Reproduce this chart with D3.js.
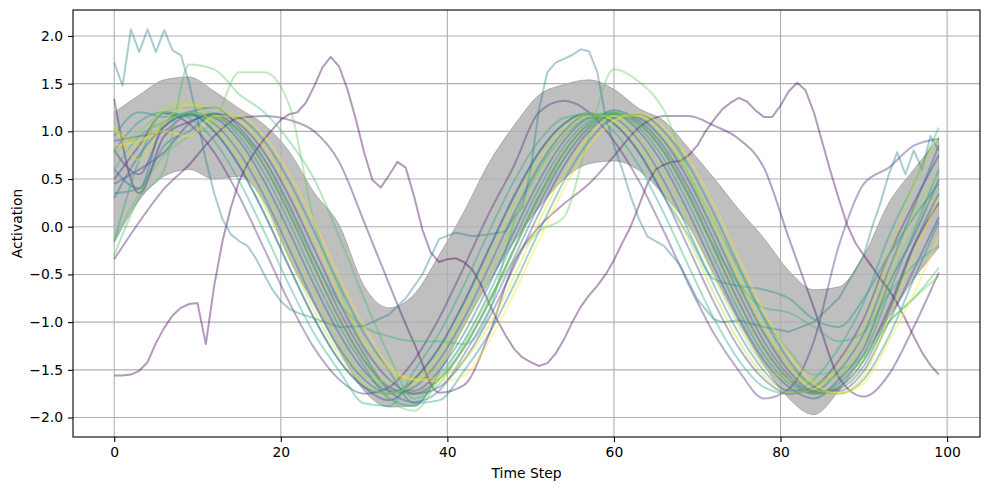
<!DOCTYPE html>
<html>
<head>
<meta charset="utf-8">
<script src="https://cdn.jsdelivr.net/npm/d3@7"></script>
<style>
  body { margin: 0; background: #fff; }
  svg { display: block; font-family: "DejaVu Sans", sans-serif; }
</style>
</head>
<body>
<div id="chart"></div>
<script>
// time grid shared by most runs (every 3rd step)
const coarseSteps = [0, 3, 6, 9, 12, 15, 18, 21, 24, 27, 30, 33, 36, 39, 42, 45, 48, 51, 54, 57,
  60, 63, 66, 69, 72, 75, 78, 81, 84, 87, 90, 93, 96, 99];
const fineSteps = d3.range(0, 100);
const tealSteps = [0, 1, 2, 3, 4, 5, 6, 7, 8, 9, 10, 11, 12, 13, 14, 15, 16, 17, 18, 19, 20, 21, 22,
  24, 27, 30, 33, 35, 37, 39, 41, 43, 45, 47,
  48, 49, 50, 51, 52, 53, 54, 55, 56, 57, 58, 59, 60, 61, 62, 63, 64,
  66, 68, 70, 72, 73, 75, 78, 81, 84, 87, 89,
  90, 91, 92, 93, 94, 95, 96, 97, 98, 99];

// mean +/- std band
const bandUpper = [1.20, 1.38, 1.54, 1.57, 1.42, 1.24, 1.07, 0.79, 0.36, 0.02,
  -0.62, -0.85, -0.71, -0.30, 0.16, 0.67, 1.06, 1.38, 1.49, 1.54,
  1.44, 1.24, 1.11, 0.82, 0.51, 0.18, -0.12, -0.46, -0.66, -0.63,
  -0.30, 0.25, 0.60, 0.93];
const bandLower = [-0.17, 0.28, 0.53, 0.60, 0.50, 0.53, 0.26, -0.33, -0.82, -1.30,
  -1.72, -1.89, -1.88, -1.54, -1.04, -0.58, -0.16, 0.20, 0.50, 0.66,
  0.69, 0.59, 0.33, 0.00, -0.50, -1.00, -1.45, -1.80, -1.97, -1.72,
  -1.35, -0.95, -0.55, -0.22];

// individual runs
const run00 = [-1.56, -1.56, -1.55, -1.51, -1.42, -1.22, -1.06, -0.93, -0.85, -0.81,
  -0.80, -1.23, -0.62, -0.15, 0.20, 0.48, 0.66, 0.80, 0.92, 1.02,
  1.12, 1.18, 1.20, 1.30, 1.47, 1.67, 1.78, 1.68, 1.44, 1.13,
  0.78, 0.49, 0.41, 0.54, 0.68, 0.62, 0.32, -0.03, -0.27, -0.37,
  -0.34, -0.33, -0.37, -0.45, -0.60, -0.80, -0.98, -1.14, -1.28, -1.37,
  -1.42, -1.46, -1.43, -1.33, -1.18, -1.00, -0.84, -0.72, -0.62, -0.50,
  -0.35, -0.17, 0.00, 0.22, 0.45, 0.60, 0.65, 0.68, 0.69, 0.75,
  0.85, 1.00, 1.12, 1.23, 1.30, 1.35, 1.31, 1.22, 1.15, 1.15,
  1.27, 1.42, 1.51, 1.43, 1.20, 0.89, 0.58, 0.29, 0.02, -0.17,
  -0.30, -0.42, -0.55, -0.66, -0.80, -0.97, -1.15, -1.32, -1.45, -1.55];
const run01 = [-0.34, 0.05, 0.40, 0.65, 0.95, 1.14, 1.16, 1.12, 1.00, 0.68,
  0.05, -0.60, -1.22, -1.74, -1.66, -1.13, -0.38, 0.00, 0.24, 0.45,
  0.74, 1.04, 1.16, 1.16, 1.06, 0.92, 0.62, -0.12, -0.85, -1.58,
  -1.78, -1.55, -1.05, -0.48];
const run02 = [1.34, 0.35, 0.95, 1.10, 1.18, 1.00, 0.64, 0.14, -0.42, -0.96,
  -1.40, -1.68, -1.75, -1.60, -1.27, -0.79, -0.23, 0.32, 0.78, 1.08,
  1.19, 1.08, 0.78, 0.32, -0.23, -0.79, -1.27, -1.60, -1.75, -1.68,
  -1.40, -0.85, -0.20, 0.25];
const run03 = [0.50, 0.85, 1.19, 1.08, 0.78, 0.32, -0.23, -0.79, -1.27, -1.60,
  -1.75, -1.68, -1.40, -0.96, -0.42, 0.14, 0.64, 1.20, 1.32, 1.20,
  0.90, 0.48, -0.05, -0.61, -1.12, -1.51, -1.80, -1.70, -1.20, -0.20,
  0.45, 0.62, 0.85, 0.92];
const run04 = [0.80, 0.55, 1.05, 1.18, 1.00, 0.64, 0.14, -0.42, -0.96, -1.40,
  -1.68, -1.82, -1.60, -1.27, -0.79, -0.23, 0.32, 0.78, 1.08, 1.19,
  1.08, 0.78, 0.32, -0.23, -0.79, -1.27, -1.60, -1.75, -1.68, -1.40,
  -0.96, -0.30, 0.25, 0.75];
const run05 = [0.45, 0.60, 0.78, 1.08, 1.19, 1.08, 0.78, 0.32, -0.23, -0.79,
  -1.27, -1.60, -1.75, -1.68, -1.40, -0.96, -0.42, 0.14, 0.64, 1.00,
  1.18, 1.14, 0.90, 0.48, -0.05, -0.61, -1.12, -1.51, -1.72, -1.72,
  -1.51, -1.00, -0.45, 0.10];
const run06 = [0.90, 0.95, 1.00, 1.18, 1.14, 0.90, 0.48, -0.05, -0.61, -1.12,
  -1.51, -1.72, -1.72, -1.51, -1.12, -0.61, -0.05, 0.48, 0.90, 1.14,
  1.18, 1.00, 0.64, 0.14, -0.42, -0.96, -1.40, -1.68, -1.80, -1.60,
  -1.27, -0.60, -0.10, 0.50];
const run07 = [0.30, 0.75, 1.05, 1.20, 1.25, 1.04, 0.71, 0.23, -0.33, -0.88,
  -1.34, -1.72, -1.84, -1.72, -1.34, -0.88, -0.33, 0.23, 0.71, 1.04,
  1.22, 1.11, 0.84, 0.40, -0.14, -0.70, -1.20, -1.56, -1.74, -1.70,
  -1.46, -0.90, -0.20, 0.35];
const run08 = [0.60, 0.40, 1.10, 1.19, 1.08, 0.78, 0.32, -0.23, -0.79, -1.27,
  -1.60, -1.75, -1.68, -1.40, -0.96, -0.42, 0.14, 0.64, 1.00, 1.18,
  1.14, 0.90, 0.48, -0.05, -0.61, -1.12, -1.51, -1.72, -1.72, -1.51,
  -1.12, -0.45, 0.20, 0.85];
const run09 = [1.72, 1.48, 2.07, 1.83, 2.07, 1.83, 2.06, 1.85, 1.80, 1.50, 1.13, 0.70,
  0.35, 0.08, -0.08, -0.15, -0.20, -0.33, -0.50, -0.66, -0.78, -0.86, -0.90,
  -0.96, -1.05, -1.04, -0.92, -0.75, -0.50, -0.13, -0.06, -0.10, -0.08, -0.05,
  0.10, 0.20, 0.60, 1.23, 1.62, 1.72, 1.76, 1.80, 1.86, 1.84, 1.62, 1.15, 0.85, 0.60, 0.32, 0.08, -0.10,
  -0.20, -0.41, -0.76, -0.97, -1.00, -0.98, -1.05, -1.10, -1.00, -0.75, -0.45,
  -0.30, 0.00, 0.25, 0.55, 0.78, 0.55, 0.80, 0.60, 0.95, 0.80];
const run10 = [0.35, 0.40, 0.85, 1.00, 1.18, 1.14, 0.90, 0.48, -0.05, -0.61,
  -1.12, -1.51, -1.85, -1.82, -1.51, -1.12, -0.61, -0.05, 0.48, 0.90,
  1.14, 1.18, 1.00, 0.64, 0.14, -0.42, -0.96, -1.40, -1.68, -1.75,
  -1.60, -1.15, -0.55, 0.05];
const run11 = [0.95, 1.20, 1.15, 1.18, 1.00, 0.64, 0.14, -0.42, -0.96, -1.40,
  -1.68, -1.75, -1.60, -1.27, -0.79, -0.23, 0.32, 0.78, 1.08, 1.19,
  1.08, 0.78, 0.32, -0.10, -0.55, -0.62, -0.66, -0.75, -0.97, -1.05,
  -0.75, -0.30, 0.10, 0.45];
const run12 = [0.80, 1.10, 1.20, 1.16, 1.16, 0.95, 0.56, 0.05, -0.52, -1.04,
  -1.46, -1.80, -1.88, -1.56, -1.20, -0.70, -0.14, 0.40, 0.84, 1.11,
  1.19, 1.04, 0.71, 0.23, -0.33, -0.88, -1.34, -1.64, -1.75, -1.64,
  -1.34, -0.70, -0.05, 0.60];
const run13 = [-0.15, 0.70, 1.20, 1.14, 0.90, 0.48, -0.05, -0.61, -1.12, -1.51,
  -1.85, -1.88, -1.51, -1.12, -0.61, -0.05, 0.48, 0.90, 1.14, 1.18,
  1.00, 0.64, 0.14, -0.42, -0.96, -1.40, -1.68, -1.75, -1.60, -1.27,
  -0.79, -0.10, 0.45, 1.04];
const run14 = [0.60, 0.95, 1.10, 1.20, 1.15, 1.00, 0.70, 0.20, -0.35, -0.80,
  -1.05, -1.15, -1.20, -1.20, -1.23, -0.90, 0.05, 0.60, 0.95, 1.15,
  1.20, 1.08, 0.80, 0.35, -0.20, -0.60, -0.85, -0.90, -1.05, -1.20,
  -1.10, -0.70, -0.40, -0.20];
const run15 = [-0.30, 0.30, 0.60, 1.70, 1.65, 1.39, 1.20, 0.90, 0.50, -0.10,
  -0.75, -1.35, -1.80, -1.65, -1.25, -0.80, -0.25, 0.30, 0.72, 1.05,
  1.18, 1.12, 0.90, 0.55, 0.05, -0.45, -0.95, -1.30, -1.55, -1.50,
  -1.36, -1.00, -0.75, -0.43];
const run16 = [-0.13, 0.35, 0.75, 0.95, 1.10, 1.62, 1.62, 1.28, 0.05, -0.65,
  -1.30, -1.80, -1.93, -1.60, -1.20, -0.75, -0.35, -0.05, 0.10, 0.95,
  1.65, 1.52, 1.22, 0.55, -0.05, -0.60, -1.10, -1.45, -1.65, -1.55,
  -1.40, -1.00, -0.75, -0.52];
const run17 = [0.75, 1.00, 1.20, 1.25, 1.18, 1.00, 0.64, 0.14, -0.42, -0.96,
  -1.40, -1.68, -1.75, -1.60, -1.27, -0.79, -0.23, 0.32, 0.78, 1.08,
  1.19, 1.08, 0.78, 0.32, -0.23, -0.79, -1.27, -1.60, -1.75, -1.68,
  -1.40, -0.60, 0.00, 0.40];
const run18 = [1.00, 0.90, 1.10, 1.19, 1.11, 0.84, 0.40, -0.14, -0.70, -1.20,
  -1.56, -1.62, -1.60, -1.46, -1.04, -0.52, 0.05, 0.56, 0.95, 1.16,
  1.16, 0.95, 0.56, 0.05, -0.52, -1.04, -1.46, -1.60, -1.62, -1.56,
  -1.20, -0.50, 0.15, 0.55];
const run19 = [1.05, 0.85, 1.25, 1.32, 1.04, 0.71, 0.23, -0.33, -0.88, -1.34,
  -1.64, -1.75, -1.64, -1.34, -0.88, -0.33, 0.23, 0.71, 1.04, 1.19,
  1.11, 0.84, 0.40, -0.14, -0.70, -1.20, -1.56, -1.74, -1.70, -1.46,
  -1.04, -0.30, 0.45, 0.95];
const run20 = [1.06, 0.70, 1.10, 1.28, 1.25, 1.11, 0.84, 0.40, -0.14, -0.70,
  -1.20, -1.50, -1.60, -1.58, -1.40, -1.04, -0.52, 0.05, 0.56, 0.95,
  1.16, 1.16, 0.95, 0.56, 0.05, -0.52, -1.04, -1.46, -1.70, -1.74,
  -1.56, -0.95, -0.30, 0.30];
const run21 = [0.85, 0.90, 1.00, 0.95, 1.16, 1.16, 0.95, 0.56, 0.05, -0.52,
  -1.04, -1.46, -1.60, -1.62, -1.56, -1.20, -0.70, -0.14, 0.40, 0.84,
  1.11, 1.19, 1.04, 0.71, 0.23, -0.33, -0.88, -1.34, -1.64, -1.75,
  -1.64, -1.20, -0.70, -0.10];

const runs = [
  { steps: fineSteps, values: run00 },
  { steps: coarseSteps, values: run01 },
  { steps: coarseSteps, values: run02 },
  { steps: coarseSteps, values: run03 },
  { steps: coarseSteps, values: run04 },
  { steps: coarseSteps, values: run05 },
  { steps: coarseSteps, values: run06 },
  { steps: coarseSteps, values: run07 },
  { steps: coarseSteps, values: run08 },
  { steps: tealSteps, values: run09 },
  { steps: coarseSteps, values: run10 },
  { steps: coarseSteps, values: run11 },
  { steps: coarseSteps, values: run12 },
  { steps: coarseSteps, values: run13 },
  { steps: coarseSteps, values: run14 },
  { steps: coarseSteps, values: run15 },
  { steps: coarseSteps, values: run16 },
  { steps: coarseSteps, values: run17 },
  { steps: coarseSteps, values: run18 },
  { steps: coarseSteps, values: run19 },
  { steps: coarseSteps, values: run20 },
  { steps: coarseSteps, values: run21 },
];

const xTicks = [0, 20, 40, 60, 80, 100];
const yTicks = [-2.0, -1.5, -1.0, -0.5, 0.0, 0.5, 1.0, 1.5, 2.0];

// set the dimensions and margins of the graph
const margin = { top: 10, right: 9, bottom: 53, left: 73 },
  width = 989 - margin.left - margin.right,
  height = 490 - margin.top - margin.bottom;

const svg = d3
  .select('#chart')
  .append('svg')
  .attr('width', width + margin.left + margin.right)
  .attr('height', height + margin.top + margin.bottom)
  .append('g')
  .attr('transform', `translate(${margin.left}, ${margin.top})`);

const x = d3.scaleLinear().domain([-4.95, 103.95]).range([0, width]);
const y = d3.scaleLinear().domain([-2.204, 2.272]).range([height, 0]);

svg.append('clipPath').attr('id', 'plot-clip')
  .append('rect').attr('width', width).attr('height', height);

const plot = svg.append('g').attr('clip-path', 'url(#plot-clip)');

// grey band
const band = d3.area()
  .x((d, i) => x(coarseSteps[i]))
  .y0((d, i) => y(bandLower[i]))
  .y1(d => y(d))
  .curve(d3.curveMonotoneX);

plot.append('path')
  .datum(bandUpper)
  .attr('d', band)
  .attr('fill', 'gray')
  .attr('fill-opacity', 0.5)
  .attr('stroke', 'gray')
  .attr('stroke-opacity', 0.5)
  .attr('stroke-width', 1);

// grid
plot.append('g').selectAll('line').data(xTicks).enter().append('line')
  .attr('x1', d => x(d)).attr('x2', d => x(d))
  .attr('y1', 0).attr('y2', height)
  .attr('stroke', '#b0b0b0').attr('stroke-width', 1.1);
plot.append('g').selectAll('line').data(yTicks).enter().append('line')
  .attr('y1', d => y(d)).attr('y2', d => y(d))
  .attr('x1', 0).attr('x2', width)
  .attr('stroke', '#b0b0b0').attr('stroke-width', 1.1);

// runs
const colorOf = i => d3.interpolateViridis(i / (runs.length - 1));

plot.append('g').selectAll('path').data(runs).enter().append('path')
  .attr('d', r => {
    const line = d3.line()
      .x((d, i) => x(r.steps[i]))
      .y(d => y(d))
      .curve(r.steps === coarseSteps ? d3.curveMonotoneX : d3.curveLinear);
    return line(r.values);
  })
  .attr('fill', 'none')
  .attr('stroke', (r, i) => colorOf(i))
  .attr('stroke-opacity', 0.4)
  .attr('stroke-width', 2)
  .attr('stroke-linejoin', 'round');

// axes
const fmt = d => d3.format('.1f')(d).replace('-', '\u2212');

const xAxis = svg.append('g')
  .attr('transform', `translate(0, ${height})`)
  .call(d3.axisBottom(x).tickValues(xTicks).tickSize(5).tickPadding(5).tickFormat(d3.format('d')));
const yAxis = svg.append('g')
  .call(d3.axisLeft(y).tickValues(yTicks).tickSize(5).tickPadding(5).tickFormat(fmt));

[xAxis, yAxis].forEach(a => {
  a.select('.domain').remove();
  a.selectAll('.tick line').attr('stroke', '#000').attr('stroke-width', 1.1);
  a.selectAll('.tick text')
    .attr('fill', '#000')
    .style('font-size', '13.9px')
    .style('font-family', '"DejaVu Sans", sans-serif');
});

svg.append('rect')
  .attr('width', width).attr('height', height)
  .attr('fill', 'none').attr('stroke', '#000').attr('stroke-width', 1.1);

svg.append('text')
  .attr('x', width / 2).attr('y', height + 41)
  .attr('text-anchor', 'middle')
  .style('font-size', '13.9px')
  .text('Time Step');

svg.append('text')
  .attr('transform', `translate(${-51}, ${height / 2}) rotate(-90)`)
  .attr('text-anchor', 'middle')
  .style('font-size', '13.9px')
  .text('Activation');
</script>
</body>
</html>
